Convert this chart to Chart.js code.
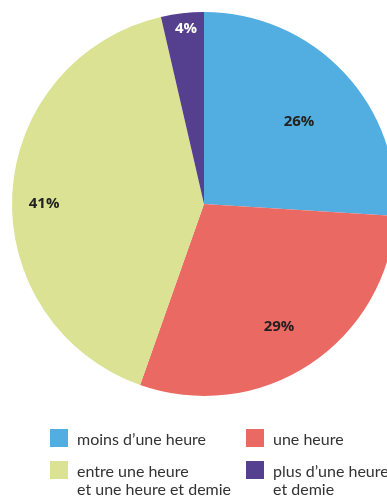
<!DOCTYPE html>
<html>
<head>
<meta charset="utf-8">
<script src="https://cdn.jsdelivr.net/npm/chart.js@4/dist/chart.umd.min.js"></script>
<style>
  html, body { margin: 0; padding: 0; background: #fff; overflow: hidden; width: 387px; height: 497px; }
  #wrap { position: absolute; left: 0; top: 0; width: 408px; height: 408px; }
  #legend { position: absolute; left: 0; top: 0; width: 387px; height: 497px; pointer-events: none;
            font-family: "Lato", "Open Sans", sans-serif; font-size: 16px; color: #333; }
  .sw { position: absolute; width: 18px; height: 18px; }
  .tx { position: absolute; line-height: 18px; white-space: nowrap; }
</style>
</head>
<body>
<div id="wrap"><canvas id="c" width="408" height="408"></canvas></div>
<div id="legend"></div>
<script>
const categories = ["moins d’une heure", "une heure", "entre une heure\net une heure et demie", "plus d’une heure\net demie"];
const values = [26, 29.4, 41, 3.6];
const colors = ["#52AEE0", "#EA6A63", "#DCE294", "#54408F"];
const labelColors = ["#222", "#222", "#222", "#fff"];

// placement styles (not data)
const labelRadiusFrac = [0.654, 0.75, 0.833, 0.916];
const labelAngleShift = [2.4, 2.1, -3.2, 0.6]; // degrees
const legendPos = [
  {x: 50, y: 429}, {x: 246, y: 429}, {x: 50, y: 461}, {x: 246, y: 461}
];

const labelPlugin = {
  id: 'sliceLabels',
  afterDatasetsDraw(chart) {
    const ctx = chart.ctx;
    const meta = chart.getDatasetMeta(0);
    const ds = chart.data.datasets[0].data;
    ctx.save();
    ctx.font = 'bold 15px "Open Sans", sans-serif';
    ctx.textAlign = 'center';
    ctx.textBaseline = 'middle';
    meta.data.forEach((arc, i) => {
      const p = arc.getProps(['x','y','startAngle','endAngle','outerRadius'], true);
      const mid = (p.startAngle + p.endAngle) / 2 + labelAngleShift[i] * Math.PI / 180;
      const r = p.outerRadius * labelRadiusFrac[i];
      ctx.fillStyle = labelColors[i];
      ctx.fillText(Math.round(ds[i]) + '%', p.x + Math.cos(mid) * r, p.y + Math.sin(mid) * r);
    });
    ctx.restore();
  }
};

new Chart(document.getElementById('c'), {
  type: 'pie',
  data: {
    labels: categories,
    datasets: [{ data: values, backgroundColor: colors, borderWidth: 0 }]
  },
  options: {
    responsive: false,
    animation: false,
    layout: { padding: 12 },
    plugins: { legend: { display: false }, tooltip: { enabled: false } }
  },
  plugins: [labelPlugin]
});

const leg = document.getElementById('legend');
categories.forEach((c, i) => {
  const sw = document.createElement('div');
  sw.className = 'sw';
  sw.style.left = legendPos[i].x + 'px';
  sw.style.top = legendPos[i].y + 'px';
  sw.style.background = colors[i];
  leg.appendChild(sw);
  const tx = document.createElement('div');
  tx.className = 'tx';
  tx.style.left = (legendPos[i].x + 27) + 'px';
  tx.style.top = (legendPos[i].y + 1) + 'px';
  tx.innerHTML = c.split('\n').join('<br>');
  leg.appendChild(tx);
});
</script>
</body>
</html>
